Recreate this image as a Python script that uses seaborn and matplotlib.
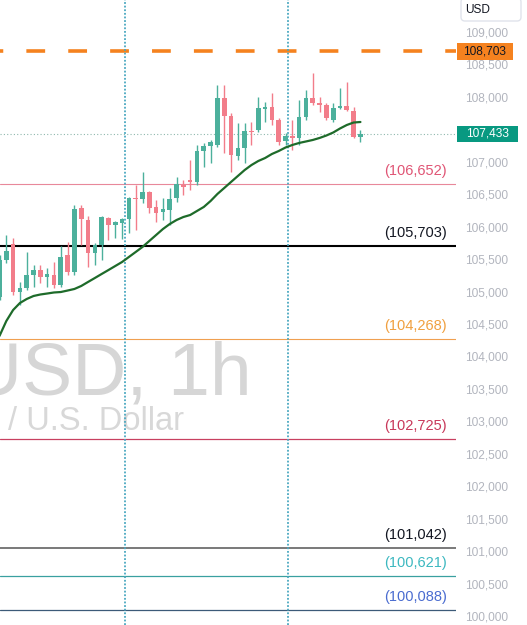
import numpy as np
import pandas as pd
import matplotlib
matplotlib.use("Agg")
import matplotlib.pyplot as plt
import seaborn as sns
from matplotlib.patches import Rectangle, FancyBboxPatch
from matplotlib.lines import Line2D
from matplotlib.transforms import IdentityTransform

# ---------------- data ----------------
opens = [104916, 105487, 105733, 104993, 105055, 105255, 105332, 105224, 105255, 105101,
         105566, 105302, 106288, 106103, 105595, 105718, 106134, 106026, 106057, 106118,
         106442, 106427, 106534, 106304, 106226, 106257, 106442, 106642, 106719, 106689,
         107166, 107243, 107259, 107983, 107706, 107089, 107212, 107474, 107490, 107813,
         107844, 107644, 107320, 107397, 107367, 107690, 107983, 107906, 107875, 107644,
         107829, 107860, 107783, 107382]
closes = [105487, 105626, 104993, 105055, 105255, 105332, 105224, 105271, 105101, 105533,
          105302, 106272, 106118, 105595, 105718, 106149, 106026, 106072, 106118, 106442,
          106427, 106534, 106288, 106211, 106272, 106427, 106658, 106612, 106689, 107166,
          107243, 107305, 107983, 107706, 107105, 107212, 107474, 107459, 107829, 107844,
          107644, 107305, 107397, 107367, 107690, 107983, 107906, 107875, 107675, 107829,
          107860, 107798, 107382, 107433]
highs = [105560, 105872, 105826, 105148, 105611, 105410, 105410, 105363, 105456, 105703,
         105764, 106334, 106334, 106165, 105749, 106160, 106149, 106080, 106130, 106457,
         106642, 106843, 106545, 106411, 106442, 106596, 106766, 106719, 107027, 107259,
         107290, 107336, 108183, 108183, 107752, 107598, 107598, 107613, 107998, 107921,
         108060, 107675, 107444, 107644, 107952, 108106, 108368, 107998, 107906, 107906,
         108137, 108230, 107844, 107490]
lows = [104870, 105440, 104947, 104793, 105024, 105070, 105132, 105070, 105055, 105070,
        105255, 105255, 105718, 105379, 105410, 105487, 105795, 105826, 105811, 105903,
        105949, 106365, 106211, 106072, 106103, 106026, 106380, 106488, 106565, 106642,
        106920, 106981, 107228, 107135, 106843, 107027, 106981, 107259, 107459, 107613,
        107567, 107259, 107259, 107182, 107259, 107644, 107875, 107767, 107644, 107613,
        107820, 107790, 107367, 107305]
ma = [104316, 104546, 104716, 104824, 104886, 104932, 104955, 104970, 104986, 104993,
      105016, 105040, 105086, 105148, 105209, 105271, 105332, 105394, 105456, 105533,
      105610, 105688, 105780, 105872, 105964, 106041, 106103, 106149, 106180, 106242,
      106304, 106396, 106504, 106596, 106689, 106781, 106873, 106950, 107012, 107058,
      107120, 107166, 107220, 107259, 107290, 107313, 107336, 107367, 107405, 107451,
      107513, 107567, 107605, 107613]

level_values = [106652, 105703, 104268, 102725, 101042, 100621, 100088]
level_labels = ["(106,652)", "(105,703)", "(104,268)", "(102,725)", "(101,042)", "(100,621)", "(100,088)"]
level_line_colors = ["#e8889a", "#000000", "#f0a050", "#c84060", "#555555", "#3aa0a0", "#3c5a78"]
level_text_colors = ["#e05575", "#131722", "#f0a040", "#c8385a", "#131722", "#3cb8c0", "#4a6cd0"]
level_widths = [0.8, 1.5, 0.8, 0.9, 1.1, 0.9, 0.9]

target_level = 108703
last_price = 107433
session_breaks = [18.4, 42.4]
tick_values = list(range(100000, 109001, 500))
tick_labels = ["" if v == 107500 else f"{v:,}" for v in tick_values]  # 107,500 sits under the price box
watermark_main = "BTCUSD, 1h"
watermark_sub = "Bitcoin / U.S. Dollar"

# ---------------- figure ----------------
sns.set_theme(style="white")
plt.rcParams["font.family"] = ["Liberation Sans", "DejaVu Sans"]

W, H = 527, 625
fig = plt.figure(figsize=(W / 100, H / 100), dpi=100)
fig.patch.set_facecolor("white")
ax = fig.add_axes([0, 0, 456 / W, 1])
ax.set_facecolor("white")
ID = IdentityTransform()

df = pd.DataFrame({"i": np.arange(len(opens)), "o": opens, "h": highs,
                   "l": lows, "c": closes, "ma": ma})
up_col, dn_col = "#4cb09c", "#f27d8a"
cols = [up_col if c >= o else dn_col for o, c in zip(df.o, df.c)]

# watermark
ax.text(252, H - 394, watermark_main, transform=ID, ha="right", va="baseline",
        fontsize=54, color="#d6d6d6", zorder=0)
ax.text(184, H - 430, watermark_sub, transform=ID, ha="right", va="baseline",
        fontsize=23.5, color="#d8d8d8", zorder=0)

# level lines and labels
for v, lab, lc, tc, lw in zip(level_values, level_labels, level_line_colors,
                              level_text_colors, level_widths):
    ax.axhline(v, color=lc, lw=lw, zorder=1)
    ax.annotate(lab, xy=(1, v), xycoords=("axes fraction", "data"),
                xytext=(-9, 13), textcoords="offset pixels", ha="right", va="center",
                fontsize=10.5, color=tc, zorder=5)

# target dashed line
ax.axhline(target_level, color="#f5821f", lw=2.6, linestyle=(4.3, (5.2, 6.4)), zorder=1)
# last price dotted line
ax.axhline(last_price, color="#8fb8ad", lw=0.8, linestyle=(0, (1, 2)), zorder=1)
# session separators
for s in session_breaks:
    ax.axvline(s, color="#4aa8c0", lw=1.3, linestyle=(0, (1, 1)), zorder=1)

# candles
ax.vlines(df.i, df.l, df.h, colors=cols, lw=1.0, zorder=2)
body_h = np.maximum(np.abs(df.c - df.o), 15)
ax.bar(df.i, body_h, bottom=np.minimum(df.o, df.c), width=0.68, color=cols,
       linewidth=0, zorder=3)

# moving average
sns.lineplot(data=df, x="i", y="ma", color="#1e6b2a", lw=1.6, ax=ax, zorder=4)

ax.set_xlim(0.5 / 6.81, 456.5 / 6.81)
ax.set_ylim(99862, 109493)
ax.set_xlabel("")
ax.set_ylabel("")
ax.set_xticks([])
ax.yaxis.tick_right()
ax.set_yticks(tick_values)
ax.set_yticklabels(tick_labels)
ax.tick_params(axis="y", length=0, pad=6.5, labelsize=8.6, labelcolor="#b2b5be")
for sp in ax.spines.values():
    sp.set_visible(False)

# price boxes on the axis
def box(x0, y0, x1, y1, fc, text, tc):
    fig.patches.append(Rectangle((x0, H - y1), x1 - x0, y1 - y0, transform=ID,
                                 facecolor=fc, edgecolor="none", zorder=5, figure=fig))
    fig.text((x0 + x1) / 2 / W, 1 - (y0 + y1) / 2 / H, text, ha="center", va="center",
             fontsize=8.6, color=tc, zorder=6)

box(457, 43, 513, 60, "#f5821f", f"{target_level:,}", "#131722")
box(457, 126, 518, 142, "#089981", f"{last_price:,}", "white")

# USD selector
fig.patches.append(FancyBboxPatch((461, H - 21), 60, 23, boxstyle="round,pad=0,rounding_size=4",
                                  transform=ID, facecolor="white", edgecolor="#e0e3eb",
                                  lw=1, zorder=5, figure=fig))
fig.text(465 / W, 1 - 10 / H, "USD", ha="left", va="center", fontsize=8.6,
         color="#131722", zorder=6)
fig.lines.append(Line2D([504, 507, 510], [H - 9, H - 12, H - 9], transform=ID,
                        color="#131722", lw=0.9, figure=fig))

fig.savefig("out.png", dpi=100)
